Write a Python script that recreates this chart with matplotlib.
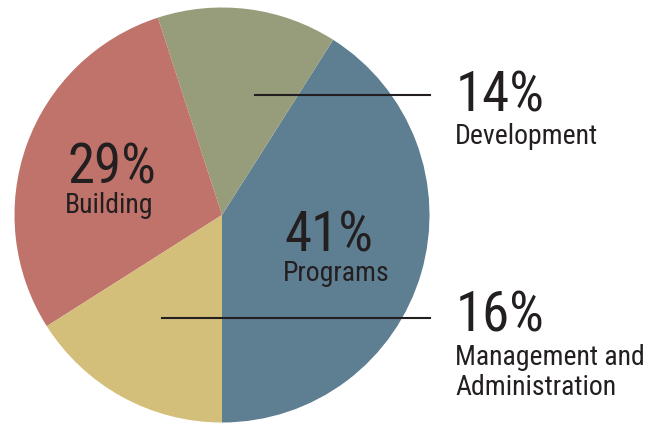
import matplotlib
matplotlib.use('Agg')
import matplotlib.pyplot as plt

# shares of the budget, drawn counterclockwise starting at 6 o'clock
categories = ['Programs', 'Development', 'Building', 'Management and\nAdministration']
shares = [41, 14, 29, 16]
colors = ['#5E7E92', '#979D7A', '#BF736B', '#D3BE7A']

plt.rcParams['font.family'] = ['Roboto Condensed', 'DejaVu Sans']
ink = '#231F20'

fig = plt.figure(figsize=(6.58, 4.26), dpi=100)
ax = fig.add_axes([0, 0, 1, 1])

ax.pie(shares, colors=colors, startangle=270, counterclock=True,
       center=(222, 211), radius=207.5, frame=True,
       wedgeprops=dict(linewidth=0))
ax.set_xlim(0, 658)
ax.set_ylim(0, 426)
ax.set_aspect('equal')
ax.axis('off')

big = 39.5
small = 20

# labels inside the pie
ax.text(67, 243, f'{shares[2]}%', fontsize=big, color=ink, ha='left', va='baseline')
ax.text(109, 213, categories[2], fontsize=small, color=ink, ha='center', va='baseline')
ax.text(284, 174, f'{shares[0]}%', fontsize=big, color=ink, ha='left', va='baseline')
ax.text(336, 145, categories[0], fontsize=small, color=ink, ha='center', va='baseline')

# callouts on the right
ax.plot([255, 430], [331, 331], color=ink, lw=1.5)
ax.plot([162, 430], [108, 108], color=ink, lw=1.5)
ax.text(456, 314, f'{shares[1]}%', fontsize=big, color=ink, ha='left', va='baseline')
ax.text(455, 282, categories[1], fontsize=small, color=ink, ha='left', va='baseline')
ax.text(456, 94, f'{shares[3]}%', fontsize=big, color=ink, ha='left', va='baseline')
for i, line in enumerate(categories[3].split('\n')):
    ax.text(455, 61 - 30 * i, line, fontsize=small, color=ink, ha='left', va='baseline')

fig.savefig('out.png', dpi=100)
